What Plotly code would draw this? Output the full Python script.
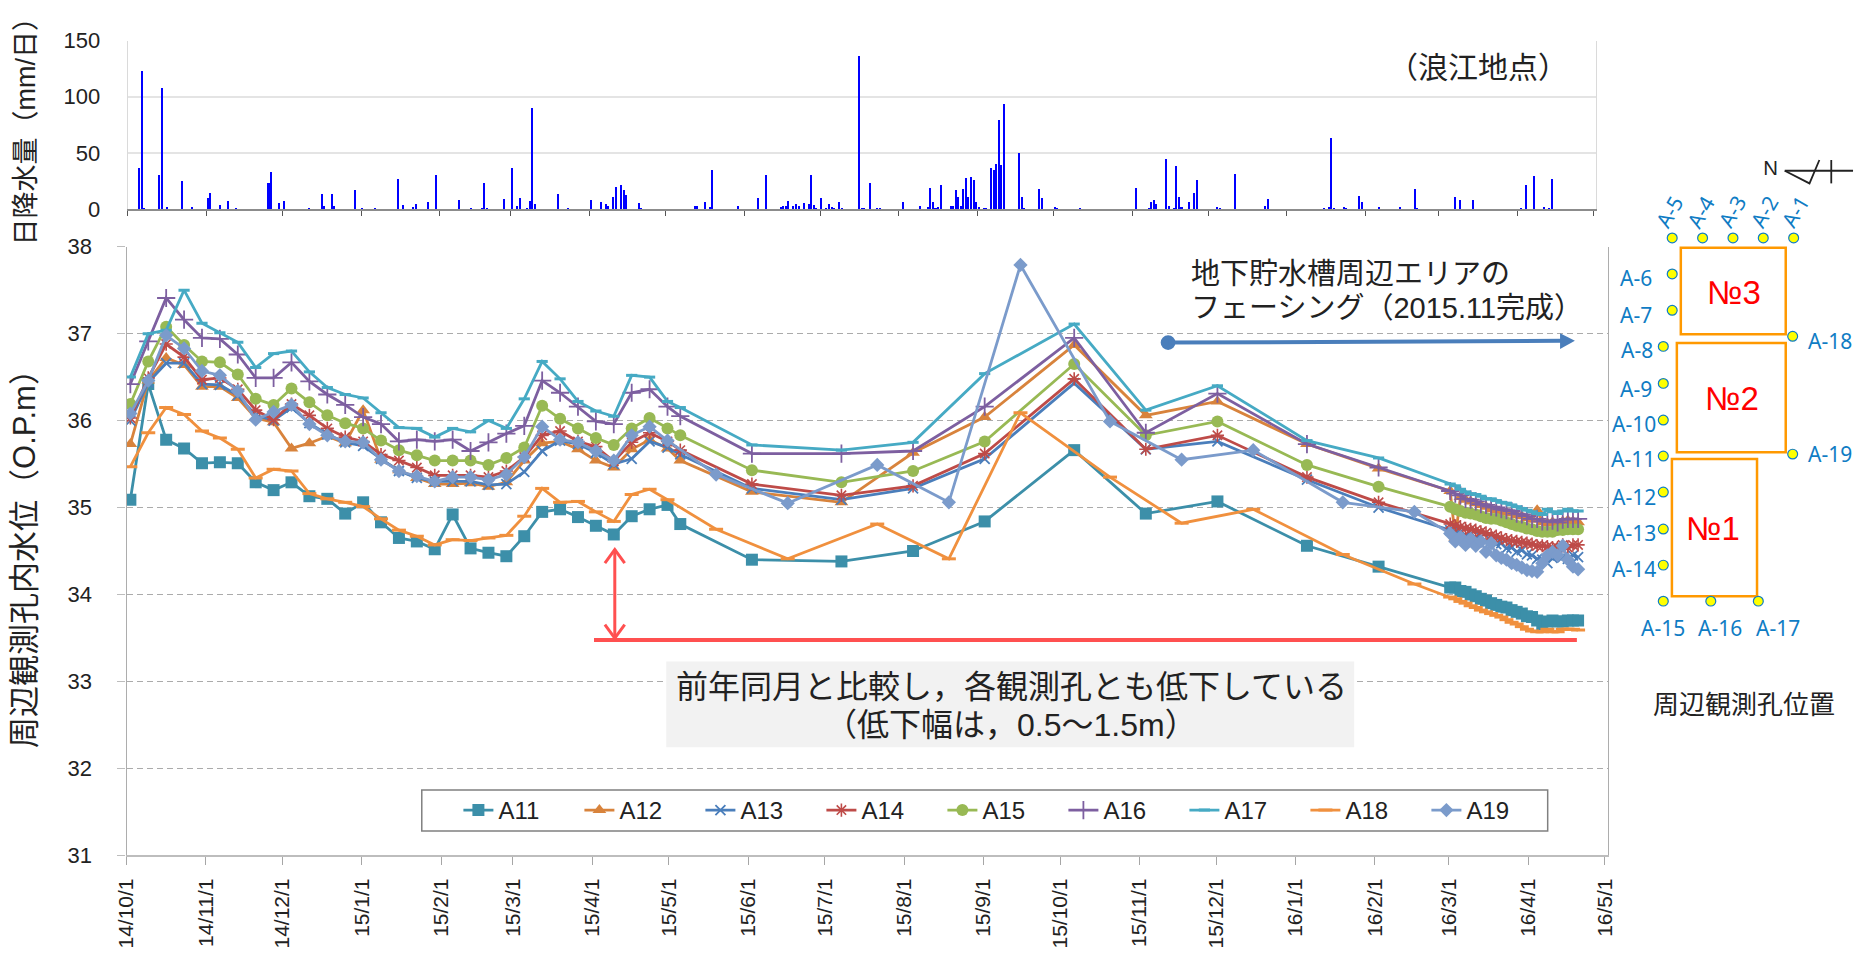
import plotly.graph_objects as go

W, H = 1864, 954
SANS = "Liberation Sans"
CJK = "Liberation Sans, 'Noto Sans CJK JP'"
LATIN = "Noto Sans"

month_days = [0, 31, 61, 92, 123, 151, 182, 212, 243, 273, 304, 335, 365, 396, 426, 457, 488, 517, 548, 578]
month_labels = ["14/10/1", "14/11/1", "14/12/1", "15/1/1", "15/2/1", "15/3/1", "15/4/1", "15/5/1", "15/6/1", "15/7/1",
                "15/8/1", "15/9/1", "15/10/1", "15/11/1", "15/12/1", "16/1/1", "16/2/1", "16/3/1", "16/4/1", "16/5/1"]

rain_days = [4.5, 5.5, 6.5, 12.5, 13.5, 15.5, 21.5, 25.5, 31.5, 32.5, 36.5, 39.5, 42.5, 55.5, 56.5, 59.5, 61.5, 71.5, 76.5,
             77.5, 80.5, 81.5, 89.5, 92.5, 97.5, 106.5, 108.5, 112.5, 113.5, 118.5, 121.5, 130.5, 135.5, 139.5, 140.5,
             141.5, 148.5, 151.5, 153.5, 154.5, 157.5, 158.5, 159.5, 160.5, 169.5, 173.5, 182.5, 186.5, 188.5, 189.5,
             191.5, 192.5, 194.5, 195.5, 196.5, 201.5, 202.5, 223.5, 224.5, 227.5, 229.5, 230.5, 240.5, 248.5, 251.5,
             257.5, 258.5, 259.5, 260.5, 262.5, 263.5, 264.5, 266.5, 268.5, 269.5, 270.5, 271.5, 273.5, 275.5, 276.5,
             277.5, 278.5, 280.5, 281.5, 288.5, 289.5, 290.5, 292.5, 295.5, 296.5, 305.5, 312.5, 315.5, 316.5, 317.5,
             318.5, 319.5, 320.5, 324.5, 325.5, 326.5, 327.5, 328.5, 329.5, 330.5, 331.5, 332.5, 333.5, 334.5, 335.5,
             337.5, 338.5, 340.5, 341.5, 342.5, 343.5, 344.5, 345.5, 351.5, 352.5, 353.5, 359.5, 360.5, 365.5, 366.5,
             375.5, 397.5, 402.5, 403.5, 404.5, 405.5, 409.5, 410.5, 412.5, 413.5, 414.5, 415.5, 418.5, 420.5, 421.5,
             429.5, 430.5, 436.5, 448.5, 449.5, 471.5, 473.5, 474.5, 475.5, 479.5, 480.5, 485.5, 486.5, 493.5, 501.5,
             507.5, 508.5, 523.5, 525.5, 530.5, 549.5, 551.5, 554.5, 558.5, 560.5, 561.5]
rain_values = [37, 123, 1.5, 31, 108, 2.5, 25, 2, 10, 15, 4, 7.5, 1.5, 24, 33, 6, 7.5, 1, 14,
               3.5, 14, 3.5, 17, 0.5, 0.5, 27, 4, 2, 4.5, 6.5, 31, 8, 1, 1, 24,
               1, 9, 36.5, 3, 10.5, 1, 7.5, 90, 5, 14, 1, 8.5, 6.5, 4.5, 3.5,
               11, 20, 22, 17, 12.5, 6, 1.5, 3.5, 3, 6.5, 2, 35, 3.5, 10, 31,
               2, 3, 3, 7.5, 3.5, 4.5, 3.5, 6, 5, 31, 4, 1, 10, 1, 5,
               2, 1, 7, 1, 137, 1, 1, 24, 1, 0.5, 7, 3, 2.5, 19.5, 7,
               1, 2.5, 21.5, 3.5, 3.5, 17, 11, 3, 18.5, 28, 11, 29, 26, 7, 2,
               1.5, 1, 36.5, 35, 40.5, 79.5, 39.5, 93.5, 50.5, 11, 1, 18, 10, 2.5, 1,
               0.5, 19, 0.5, 7, 8.5, 4.5, 44.5, 3.5, 1, 39, 11, 2, 7, 15, 26.5,
               2, 0.5, 31.5, 3, 9, 0.5, 2, 64, 0.5, 2.5, 1, 12, 7, 2, 2,
               18, 0.5, 11, 8, 8.5, 1, 22, 30, 2, 0.5, 27]

weekly_days = [1.5, 8.5, 15.5, 22.5, 29.5, 36.5, 43.5, 50.5, 57.5, 64.5, 71.5, 78.5, 85.5, 92.5, 99.5, 106.5, 113.5, 120.5,
               127.5, 134.5, 141.5, 148.5, 155.5, 162.5, 169.5, 176.5, 183.5, 190.5, 197.5, 204.5, 211.5]
later_days = [216.5, 244.5, 279.5, 307.5, 335.5, 370.5, 398.5, 426.5, 461.5, 489.5]
later_days_b = [230.5, 258.5, 293.5, 321.5, 349.5, 384.5, 412.5, 440.5, 475.5, 503.5]
dense_days = [517.5, 519.5, 521.5, 523.5, 525.5, 527.5, 529.5, 531.5, 533.5, 535.5, 537.5, 539.5, 541.5, 543.5, 545.5,
              547.5, 549.5, 551.5, 553.5, 555.5, 557.5, 559.5, 561.5, 563.5, 565.5, 567.5]

a11 = [35.09, 36.42, 35.78, 35.68, 35.51, 35.52, 35.51, 35.29, 35.2, 35.29, 35.13, 35.10, 34.93, 35.06, 34.83, 34.65, 34.61,
       34.52, 34.92, 34.53, 34.48, 34.44, 34.67, 34.95, 34.98, 34.89, 34.79, 34.69, 34.9, 34.98, 35.03,
       34.81, 34.40, 34.38, 34.5, 34.84, 35.66, 34.93, 35.07, 34.56, 34.32,
       34.08, 34.08, 34.04, 34.03, 34.0, 33.98, 33.95, 33.93, 33.9, 33.88, 33.86, 33.85, 33.82, 33.8, 33.78, 33.75, 33.74,
       33.7, 33.66, 33.69, 33.7, 33.69, 33.69, 33.7, 33.7, 33.7]
a12 = [35.73, 36.46, 36.72, 36.64, 36.39, 36.39, 36.26, 36.03, 35.98, 35.68, 35.74, 35.82, 35.74, 36.12, 35.55, 35.43, 35.34,
       35.27, 35.27, 35.28, 35.24, 35.29, 35.54, 35.74, 35.76, 35.67, 35.54, 35.46, 35.67, 35.78, 35.68,
       35.54, 35.18, 35.06, 35.63, 36.04, 36.87, 36.06, 36.22, 35.73, 35.45,
       35.19, 34.65, 35.12, 35.09, 35.07, 35.05, 35.03, 35.01, 34.98, 34.97, 34.95, 34.94, 34.93, 34.91, 34.90, 34.88, 34.86,
       34.97, 34.83, 34.82, 34.83, 34.81, 34.84, 34.85, 34.84, 34.83]
a13 = [36.0, 36.44, 36.66, 36.66, 36.42, 36.41, 36.29, 36.06, 36.0, 36.15, 35.97, 35.84, 35.75, 35.71, 35.56, 35.42, 35.34,
       35.3, 35.3, 35.3, 35.26, 35.27, 35.41, 35.65, 35.77, 35.73, 35.63, 35.5, 35.56, 35.76, 35.69,
       35.61, 35.22, 35.09, 35.22, 35.56, 36.43, 35.67, 35.76, 35.32, 35.0,
       34.74, 34.72, 34.72, 34.68, 34.7, 34.65, 34.66, 34.61, 34.62, 34.58, 34.59, 34.53, 34.54, 34.49, 34.51, 34.46, 34.45,
       34.41, 34.4, 34.36, 34.42, 34.45, 34.43, 34.41, 34.45, 34.43]
a14 = [36.03, 36.49, 36.88, 36.73, 36.47, 36.49, 36.36, 36.12, 36.01, 36.19, 36.06, 35.91, 35.81, 35.76, 35.61, 35.54, 35.46,
       35.37, 35.37, 35.37, 35.35, 35.42, 35.58, 35.83, 35.88, 35.76, 35.7, 35.53, 35.75, 35.86, 35.76,
       35.66, 35.27, 35.14, 35.25, 35.62, 36.48, 35.67, 35.83, 35.35, 35.06,
       34.81, 34.79, 34.78, 34.76, 34.75, 34.74, 34.72, 34.71, 34.68, 34.67, 34.65, 34.63, 34.62, 34.61, 34.6, 34.59, 34.58,
       34.56, 34.56, 34.55, 34.54, 34.54, 34.57, 34.54, 34.57, 34.57]
a15 = [36.19, 36.68, 37.08, 36.87, 36.68, 36.67, 36.53, 36.25, 36.18, 36.37, 36.21, 36.06, 35.97, 35.91, 35.77, 35.66, 35.6,
       35.54, 35.54, 35.54, 35.49, 35.57, 35.69, 36.17, 36.02, 35.91, 35.8, 35.72, 35.91, 36.03, 35.91,
       35.83, 35.43, 35.29, 35.42, 35.76, 36.65, 35.83, 35.99, 35.49, 35.24,
       35.01, 34.98, 34.96, 34.94, 34.93, 34.92, 34.9, 34.88, 34.87, 34.87, 34.85, 34.83, 34.81, 34.79, 34.78, 34.76, 34.75,
       34.73, 34.72, 34.72, 34.72, 34.74, 34.74, 34.75, 34.75, 34.75]
a16 = [36.42, 36.91, 37.41, 37.16, 36.95, 36.94, 36.76, 36.49, 36.49, 36.67, 36.45, 36.3, 36.18, 36.04, 35.96, 35.76, 35.78,
       35.76, 35.78, 35.65, 35.75, 35.85, 35.94, 36.46, 36.32, 36.16, 35.99, 35.96, 36.32, 36.36, 36.16,
       36.05, 35.62, 35.62, 35.65, 36.16, 36.95, 35.86, 36.31, 35.73, 35.46,
       35.19, 35.16, 35.14, 35.1, 35.09, 35.07, 35.04, 35.03, 35.01, 35.0, 34.98, 34.97, 34.96, 34.93, 34.92, 34.9, 34.87,
       34.87, 34.84, 34.84, 34.85, 34.83, 34.86, 34.87, 34.87, 34.87]
a17 = [36.5, 37.0, 37.04, 37.5, 37.12, 37.01, 36.9, 36.61, 36.77, 36.8, 36.56, 36.38, 36.3, 36.26, 36.09, 35.92, 35.91,
       35.81, 35.91, 35.87, 36.0, 35.91, 36.25, 36.68, 36.48, 36.22, 36.11, 36.05, 36.52, 36.5, 36.22,
       36.15, 35.72, 35.66, 35.75, 36.54, 37.11, 36.12, 36.4, 35.77, 35.57,
       35.27, 35.25, 35.21, 35.18, 35.16, 35.15, 35.13, 35.10, 35.10, 35.08, 35.06, 35.05, 35.03, 35.01, 34.99, 34.97, 34.95,
       34.93, 34.92, 34.98, 34.95, 34.93, 34.96, 34.98, 34.96, 34.96]
a18 = [35.47, 35.86, 36.15, 36.07, 35.88, 35.8, 35.67, 35.34, 35.44, 35.42, 35.16, 35.1, 35.06, 35.01, 34.87, 34.74, 34.67,
       34.57, 34.63, 34.62, 34.65, 34.68, 34.9, 35.22, 35.06, 35.07, 34.95, 34.84, 35.15, 35.21, 35.09,
       34.75, 34.41, 34.81, 34.41, 36.09, 35.35, 34.82, 34.98, 34.46, 34.12,
       33.97, 33.95, 33.92, 33.9, 33.87, 33.85, 33.82, 33.8, 33.78, 33.76, 33.74, 33.71, 33.68, 33.66, 33.63, 33.6, 33.58,
       33.57, 33.57, 33.6, 33.57, 33.57, 33.6, 33.6, 33.6, 33.59]
a19 = [36.08, 36.46, 36.98, 36.83, 36.57, 36.52, 36.34, 36.01, 36.1, 36.18, 35.96, 35.83, 35.76, 35.75, 35.55, 35.42, 35.36,
       35.3, 35.35, 35.35, 35.32, 35.38, 35.58, 35.93, 35.78, 35.75, 35.65, 35.54, 35.83, 35.93, 35.77,
       35.38, 35.05, 35.49, 35.06, 37.79, 35.99, 35.55, 35.66, 35.06, 34.95,
       34.7, 34.61, 34.66, 34.57, 34.64, 34.56, 34.61, 34.49, 34.59, 34.45, 34.42, 34.4, 34.36, 34.34, 34.31, 34.28, 34.27,
       34.26, 34.36, 34.45, 34.49, 34.45, 34.56, 34.4, 34.32, 34.29]

series = [
    ("A11", a11, later_days, "#3C8FA9", "square", 12, 0),
    ("A12", a12, later_days, "#D8833C", "triangle-up", 12, 0),
    ("A13", a13, later_days, "#4A7EBB", "x-thin-open", 10, 1.8),
    ("A14", a14, later_days, "#BE4B48", "asterisk-open", 11, 1.6),
    ("A15", a15, later_days, "#98B954", "circle", 12, 0),
    ("A16", a16, later_days, "#7D5FA0", "cross-thin-open", 13, 1.8),
    ("A17", a17, later_days, "#46AAC4", "line-ew-open", 8, 3),
    ("A18", a18, later_days_b, "#F0903E", "line-ew-open", 10, 3),
    ("A19", a19, later_days_b, "#7B9BCB", "diamond", 11, 0),
]

fig = go.Figure()
for name, values, later, color, symbol, size, mlw in series:
    days = weekly_days + later + dense_days
    assert len(days) == len(values), name
    fig.add_trace(go.Scatter(
        x=days, y=values, name=name, mode="lines+markers",
        line=dict(color=color, width=2.8),
        marker=dict(symbol=symbol, size=size, color=color, line=dict(color=color, width=mlw)),
        xaxis="x", yaxis="y",
    ))
assert len(rain_days) == len(rain_values)
fig.add_trace(go.Bar(x=rain_days, y=rain_values, width=0.6, marker=dict(color="#0000FF", line=dict(width=0)),
                     showlegend=False, xaxis="x2", yaxis="y2"))


def X(v):
    return v / W


def Y(v):
    return 1 - v / H


def rect(x0, y0, x1, y1, line=None, fill=None, width=0, layer="above"):
    return dict(type="rect", xref="paper", yref="paper", x0=X(x0), x1=X(x1), y0=Y(y0), y1=Y(y1),
                line=dict(color=line or "rgba(0,0,0,0)", width=width), fillcolor=fill or "rgba(0,0,0,0)", layer=layer)


def seg(x0, y0, x1, y1, color, width):
    return dict(type="line", xref="paper", yref="paper", x0=X(x0), x1=X(x1), y0=Y(y0), y1=Y(y1),
                line=dict(color=color, width=width), layer="above")


def circle(cx, cy, r, fill, line=None, width=0):
    return dict(type="circle", xref="paper", yref="paper", x0=X(cx - r), x1=X(cx + r), y0=Y(cy - r), y1=Y(cy + r),
                fillcolor=fill, line=dict(color=line or fill, width=width), layer="above")


def poly(points, fill=None, color=None, width=0, closed=True):
    d = "M " + " L ".join(f"{X(a):.5f},{Y(b):.5f}" for a, b in points) + (" Z" if closed else "")
    return dict(type="path", xref="paper", yref="paper", path=d, fillcolor=fill or "rgba(0,0,0,0)",
                line=dict(color=color or "rgba(0,0,0,0)", width=width), layer="above")


def label(text, x, y, size, color="#222222", family=CJK, anchor="center", angle=0, align="center"):
    return dict(text=text, x=X(x), y=Y(y), xref="paper", yref="paper", showarrow=False, xanchor=anchor, yanchor="middle",
                font=dict(size=size, color=color, family=family), textangle=angle, align=align)


RED = "#FF5050"
BLUE = "#4A7EBB"
ORANGE = "#FF9900"
WELL = "#0F7CC4"
shapes = [
    rect(414, 799, 1551.5, 841, line="#808080", fill="#FFFFFF", width=1.5),
    rect(661, 667, 1356, 755, fill="#F2F2F2"),
    seg(588, 645, 1581, 645, RED, 4),
    seg(609, 552, 609, 643, RED, 3),
    poly([(599, 566), (609, 552), (619, 566)], color=RED, width=3, closed=False),
    poly([(599, 629), (609, 643), (619, 629)], color=RED, width=3, closed=False),
    circle(1168, 339.5, 7.5, BLUE),
    seg(1168, 339.5, 1566, 337.7, BLUE, 4),
    poly([(1564, 330), (1579, 337.7), (1564, 346)], fill=BLUE),
    rect(1686, 242, 1792, 331, line=ORANGE, width=2.5),
    rect(1682, 340, 1792, 452, line=ORANGE, width=2.5),
    rect(1677, 459, 1763, 600, line=ORANGE, width=2.5),
    poly([(1791, 163), (1816, 176), (1826, 152)], color="#222222", width=1.8, closed=False),
    seg(1791, 163, 1860, 163, "#222222", 1.8),
    seg(1838, 152, 1838, 176, "#222222", 1.8),
]
wells = [(1677.3, 232), (1708, 232), (1738.7, 232), (1769.3, 232), (1800, 232), (1677.3, 269), (1677.3, 306.3),
         (1668.3, 343.4), (1668.3, 381.4), (1668.3, 419), (1668.3, 456), (1668.3, 493), (1668.3, 531), (1668.3, 568),
         (1668.3, 605), (1716.3, 605), (1764.3, 605), (1799, 333), (1799, 454)]
shapes += [circle(a, b, 5, "#FFFF00", line=WELL, width=1.2) for a, b in wells]

annotations = [
    label("（浪江地点）", 1481, 57, 30),
    label("地下貯水槽周辺エリアの", 1189, 269.5, 29, anchor="left"),
    label("フェーシング（2015.11完成）", 1189, 304, 29, anchor="left"),
    label("前年同月と比較し，各観測孔とも低下している", 1010, 693, 32),
    label("（低下幅は，0.5～1.5m）", 1009, 732, 32),
    label("周辺観測孔位置", 1750, 712, 26),
    label("N", 1777, 160, 20, family=LATIN),
    label("№3", 1740, 288, 33, color="#FF0000"),
    label("№2", 1738, 397, 33, color="#FF0000"),
    label("№1", 1719, 530, 33, color="#FF0000"),
]
for text, x, y in [("A-6", 1641, 273), ("A-7", 1641, 311), ("A-8", 1641.5, 347), ("A-9", 1641, 387), ("A-10", 1639, 423),
                   ("A-11", 1637.5, 459), ("A-12", 1639, 497.6), ("A-13", 1639, 535), ("A-14", 1639, 571.5),
                   ("A-15", 1667.7, 633), ("A-16", 1725.7, 633), ("A-17", 1784, 633), ("A-18", 1837, 338), ("A-19", 1837, 454)]:
    annotations.append(label(text, x, y, 21, color=WELL, family=LATIN))
for text, x, y in [("A-5", 1674, 205), ("A-4", 1705.7, 205), ("A-3", 1737.3, 205), ("A-2", 1769.7, 205), ("A-1", 1801, 205)]:
    annotations.append(label(text, x, y, 21, color=WELL, family=LATIN, angle=-60))

tick_font = dict(size=22, color="#222222", family=SANS)
fig.update_layout(
    width=W, height=H, autosize=False, margin=dict(l=0, r=0, t=0, b=0),
    paper_bgcolor="#FFFFFF", plot_bgcolor="#FFFFFF", bargap=0,
    font=dict(family=SANS, color="#222222"),
    shapes=shapes, annotations=annotations,
    legend=dict(orientation="h", x=X(451), y=Y(820), xanchor="left", yanchor="middle", bgcolor="rgba(0,0,0,0)",
                font=dict(size=24, family=SANS, color="#222222"), entrywidth=76, entrywidthmode="pixels",
                itemwidth=30, traceorder="normal"),
    xaxis=dict(domain=[X(115.7), X(1612.7)], range=[0, 579.3], tickmode="array", tickvals=month_days, ticktext=month_labels,
               tickangle=-90, ticks="outside", ticklen=8, tickcolor="#A6A6A6", ticklabelstandoff=5,
               tickfont=dict(size=21, color="#222222", family=SANS),
               showgrid=False, zeroline=False, showline=True, linecolor="#BDBDBD", linewidth=1.5, anchor="y"),
    yaxis=dict(domain=[Y(866), Y(241)], range=[31, 38], tickmode="array", tickvals=list(range(31, 39)),
               ticks="outside", ticklen=8, tickcolor="#BDBDBD", tickfont=tick_font, ticklabelstandoff=21,
               showgrid=True, gridcolor="#ABABAB", griddash="6px,4px", gridwidth=1.2, zeroline=False,
               showline=True, linecolor="#ADADAD", linewidth=1.2, mirror=True, anchor="x",
               title=dict(text="周辺観測孔内水位（O.P.m）", font=dict(size=31, family=CJK, color="#222222"), standoff=22)),
    xaxis2=dict(domain=[X(117), X(1600)], range=[0, 578.8], tickmode="array", tickvals=month_days, showticklabels=False,
                ticks="outside", ticklen=5, tickcolor="#555555", showgrid=False, zeroline=False, showline=True,
                linecolor="#8C8C8C", linewidth=1.5, anchor="y2"),
    yaxis2=dict(domain=[Y(202.3), Y(29.3)], range=[0, 150], tickmode="array", tickvals=[0, 50, 100, 150], ticks="",
                tickfont=tick_font, ticklabelstandoff=22, showgrid=True, gridcolor="#E4E4E4", gridwidth=1.5, zeroline=False,
                showline=True, linecolor="#DADADA", linewidth=1.2, mirror=True, anchor="x2",
                title=dict(text="日降水量（mm/日）", font=dict(size=27, family=CJK, color="#222222"), standoff=20)),
)

fig.write_html("out.html", config={"displayModeBar": False},
               post_script="document.body.style.margin='0';document.body.style.overflow='hidden';")
